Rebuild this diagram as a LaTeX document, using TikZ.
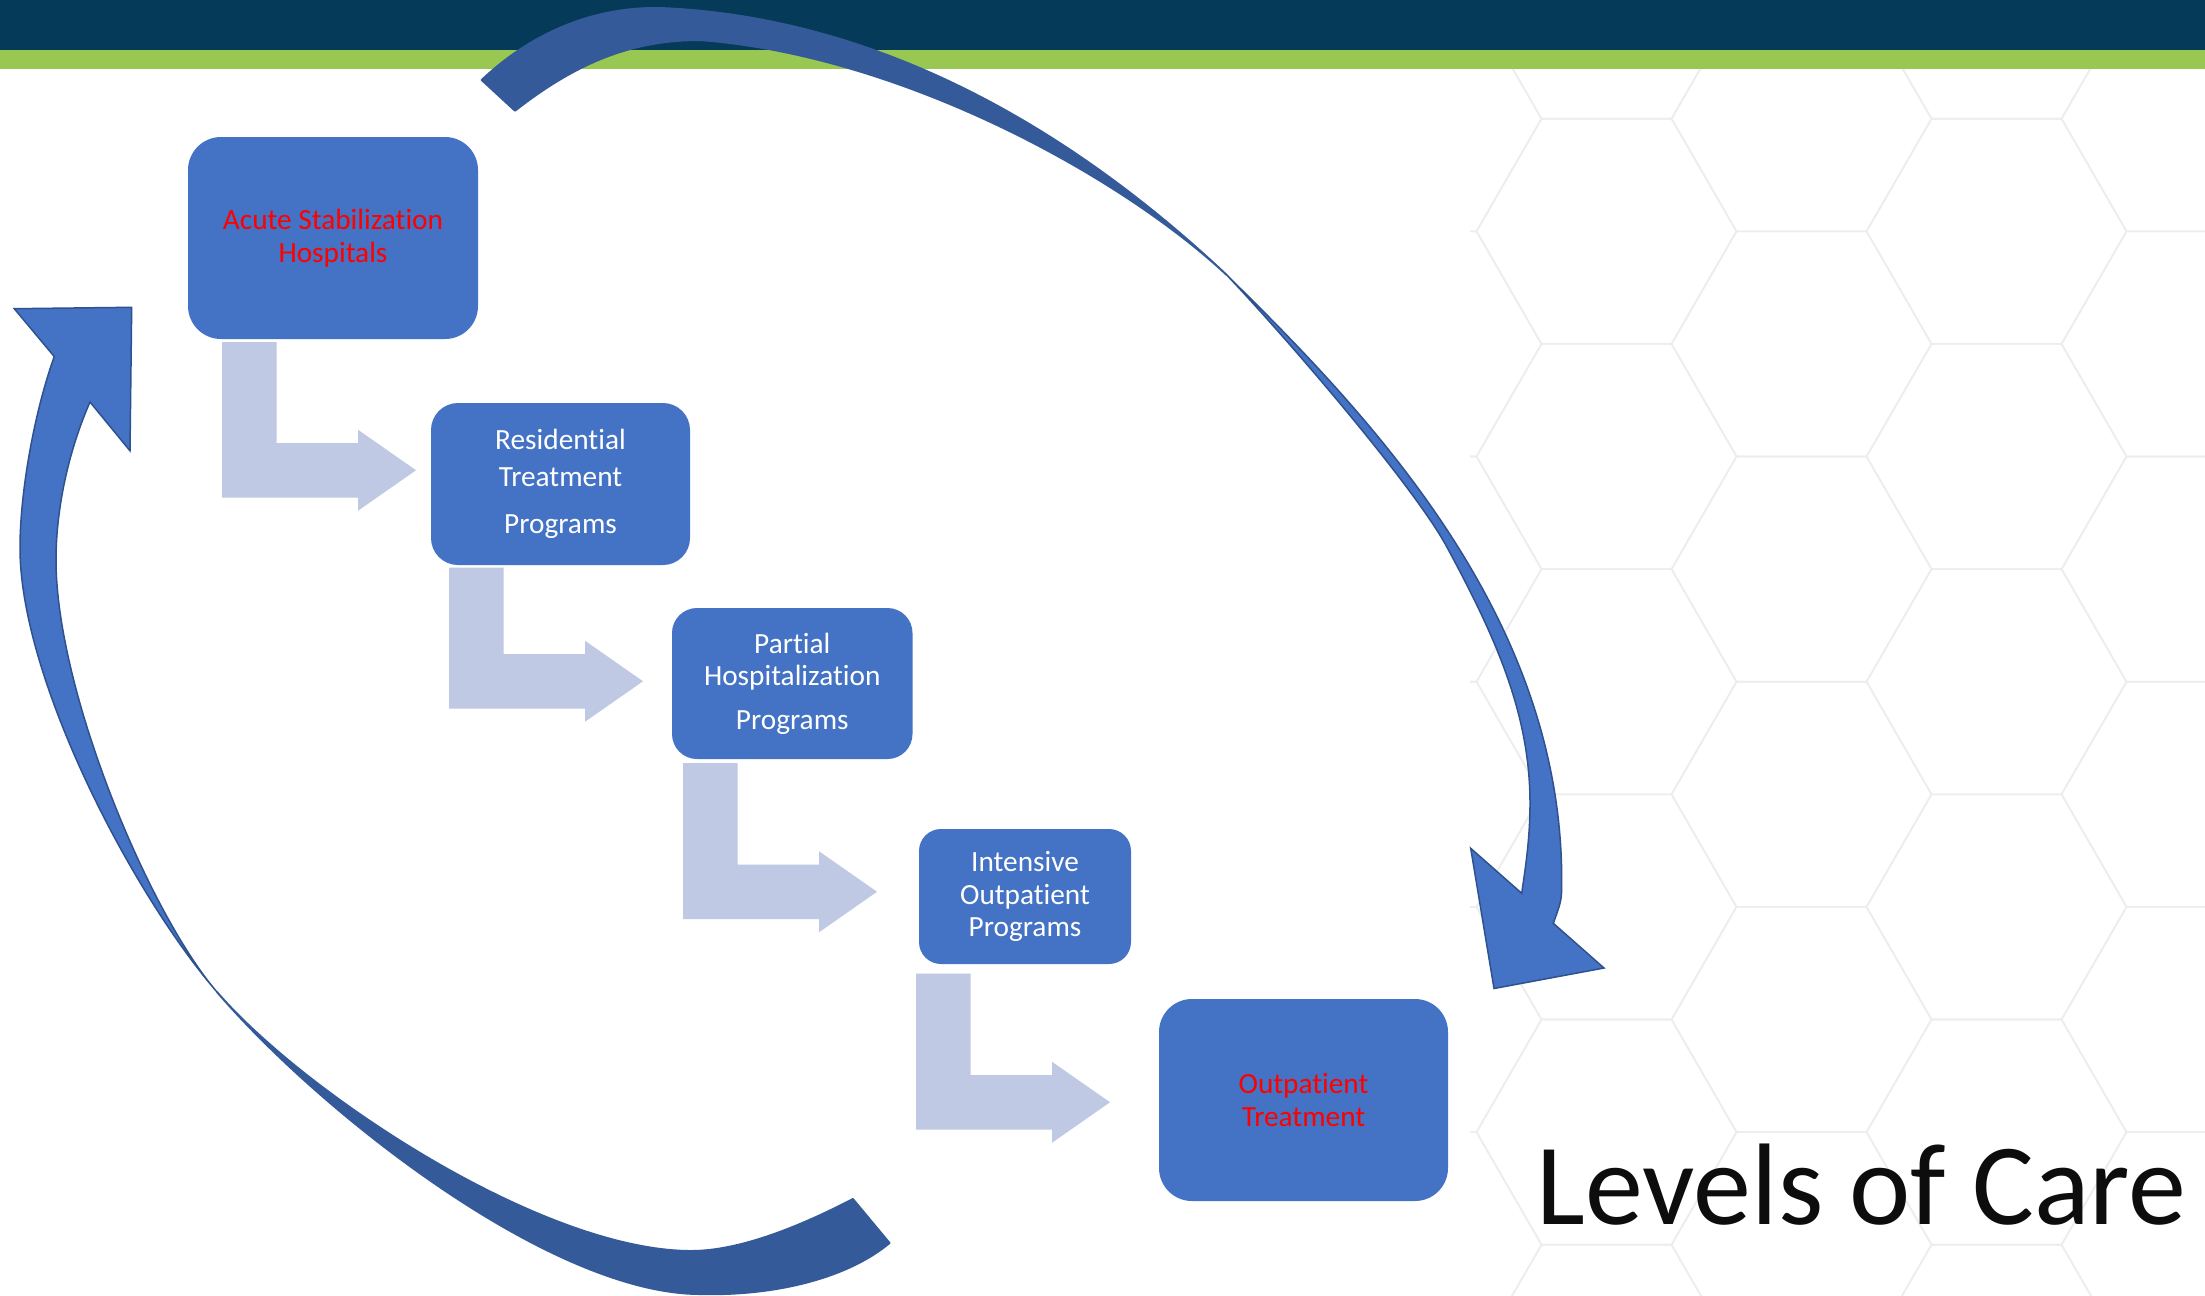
\documentclass[tikz,border=0pt]{standalone}
\usepackage{fontspec}
\setmainfont{Carlito}[Ligatures=NoCommon]
\usetikzlibrary{calc}
\definecolor{navy}{RGB}{5,58,89}
\definecolor{lime}{RGB}{152,200,82}
\definecolor{boxblue}{RGB}{68,114,196}
\definecolor{arcdark}{RGB}{53,90,153}
\definecolor{arcline}{RGB}{47,82,143}
\definecolor{bentblue}{RGB}{191,201,227}
\definecolor{redtext}{RGB}{255,0,0}
\definecolor{hexgray}{RGB}{237,237,237}
\newcommand{\bentarr}[3]{% x0, ytop, ybot
  \fill[bentfill] (#1,#2) -- ++(54.5,0) |- ({#1+136},{#3-54.5}) -- ({#1+136},{#3-67.75})
    -- ({#1+194},{#3-27.25}) -- ({#1+136},{#3+13.25}) -- ({#1+136},#3) -- (#1,#3) -- cycle;}
\begin{document}
\begin{tikzpicture}[x=1bp,y=-1bp,
  lvl/.style={rectangle, rounded corners=#1, fill=boxblue, inner sep=0pt, align=center,
    text=white, font=\fontsize{29.3bp}{32.5bp}\selectfont},
  bentfill/.style={fill=bentblue},
  lightarc/.style={fill=boxblue, draw=arcline, line width=1.5bp},
  darkarc/.style={fill=arcdark, draw=arcdark, line width=2bp, line join=round},
  hexline/.style={draw=hexgray, line width=1.6bp}]
\useasboundingbox (0,0) rectangle (2205,1295);
\fill[white] (0,0) rectangle (2205,1295);

% faint hexagon background
\begin{scope}
\clip (1470,69) rectangle (2205,1295);
\foreach \i in {-3,...,1}{
  \foreach \j in {-2,...,4}{
    \pgfmathsetmacro{\cx}{1996.5+195*\i}
    \pgfmathsetmacro{\cy}{456.5+225.2*\j+112.6*mod(abs(\i),2)}
    \draw[hexline] ({\cx+130},{\cy}) -- ({\cx+65},{\cy+112.6}) -- ({\cx-65},{\cy+112.6})
      -- ({\cx-130},{\cy}) -- ({\cx-65},{\cy-112.6}) -- ({\cx+65},{\cy-112.6}) -- cycle;
  }}
\end{scope}

% header
\fill[navy] (0,0) rectangle (2205,49.5);
\fill[lime] (0,49.5) rectangle (2205,68.5);

% level boxes
\node[lvl=33bp, minimum width=290bp, minimum height=202bp, text=redtext] (b1) at (333,238)
  {Acute Stabilization\\Hospitals};
\node[lvl=27bp, minimum width=259bp, minimum height=162bp] (b2) at (560.5,484)
  {Residential\\[4bp]Treatment\\[15bp]Programs};
\node[lvl=25bp, minimum width=240.5bp, minimum height=151bp] (b3) at (792.25,683.5)
  {Partial\\Hospitalization\\[11bp]Programs};
\node[lvl=22bp, minimum width=212bp, minimum height=135bp] (b4) at (1025,896.5)
  {Intensive\\Outpatient\\Programs};
\node[lvl=33bp, minimum width=289bp, minimum height=202bp, text=redtext] (b5) at (1303.5,1100)
  {Outpatient\\Treatment};

% bent arrows between levels
\bentarr{222}{342}{497.5}
\bentarr{449}{567.5}{708.5}
\bentarr{683}{763}{919}
\bentarr{916}{973.7}{1129.5}

% top-right curved arrow: back part
\filldraw[darkarc] (481.7,80) .. controls (540,25) and (606.7,5.3) .. (666.7,8.3)
  .. controls (866.7,18.3) and (1056.7,115.2) .. (1226.7,275)
  .. controls (1120,175) and (900,55) .. (700,40)
  .. controls (630,40) and (575,63.9) .. (515,110.7) -- cycle;
% top-right curved arrow: front part with head
\filldraw[lightarc] (1226.7,275) .. controls (1376.7,422) and (1561.7,620) .. (1561.7,880)
  .. controls (1561.7,900) .. (1553.3,923.3) -- (1604,968) -- (1494,988.5) -- (1470.7,848.3)
  -- (1521.7,893.3) .. controls (1525,870) and (1530,840) .. (1530,803.3)
  .. controls (1530,713.3) and (1495.3,636.7) .. (1446.7,546.7)
  .. controls (1414.3,486.7) and (1286.7,338) .. (1226.7,275) -- cycle;

% bottom-left curved arrow: back part
\filldraw[darkarc] (217,992) .. controls (303,1092) and (541.3,1251) .. (691.3,1251)
  .. controls (741,1251) and (802.9,1225) .. (852.9,1199) -- (889.5,1243)
  .. controls (845,1280) and (770,1296) .. (700.5,1294)
  .. controls (550.5,1294) and (320.2,1112) .. (217,992) -- cycle;
% bottom-left curved arrow: front part with head
\filldraw[lightarc] (217,992) .. controls (131,892) and (20,678) .. (20,548)
  .. controls (20,488) and (36,406.6) .. (54.3,356.6) -- (14.3,308.7) -- (131.7,307.3)
  -- (130,450.8) -- (90,402) .. controls (68,452) and (56,510) .. (56,560)
  .. controls (56,690) and (148.2,912) .. (217,992) -- cycle;

% title
\node[anchor=base, inner sep=0pt, text=black!95, font=\fontsize{116bp}{120bp}\selectfont]
  (title) at (1861.5,1224.6) {Levels of Care};
\end{tikzpicture}
\end{document}
